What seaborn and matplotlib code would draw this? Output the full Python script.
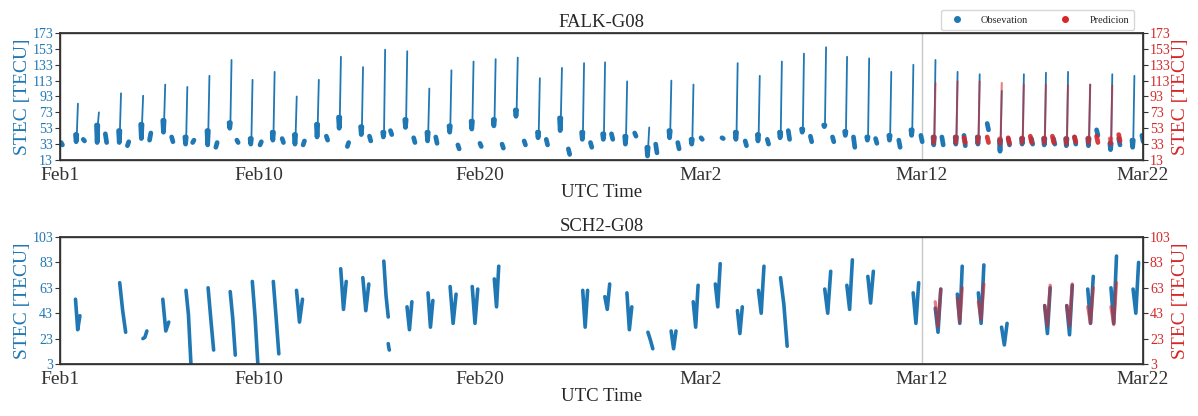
import numpy as np
import pandas as pd
import matplotlib
matplotlib.use("Agg")
import matplotlib.pyplot as plt
import seaborn as sns
from matplotlib.lines import Line2D

# ---------------- data (days since Feb 1) ----------------
x_tick_days = [0, 9, 19, 29, 39, 49]
x_tick_labels = ["Feb1", "Feb10", "Feb20", "Mar2", "Mar12", "Mar22"]
split_day = 39  # Mar12

# FALK-G08 long passes: start time, base high, base low, peak
falk_big_t = [0.70, 1.65, 2.65, 3.65, 4.65, 5.65, 6.65, 7.65, 8.60, 9.60, 10.60, 11.60,
              12.60, 13.60, 14.60, 15.60, 16.60, 17.60, 18.60, 19.60, 20.60, 21.60, 22.60,
              23.60, 24.55, 25.55, 26.55, 27.55, 28.55, 30.55, 31.55, 32.55, 33.55, 34.55,
              35.50, 36.50, 37.50, 38.50, 39.50, 40.50, 41.50, 42.50, 43.50, 44.50, 45.50,
              46.50, 47.50, 48.50]
falk_big_hi = [45, 57, 50, 58, 63, 42, 50, 60, 40, 48, 45, 58, 67, 55, 48, 64, 48, 56, 62,
               64, 76, 48, 66, 48, 46, 43, 29, 50, 39, 48, 45, 48, 52, 57, 49, 42, 44, 51,
               42, 42, 42, 38, 40, 40, 40, 40, 34, 38]
falk_big_lo = [36, 35, 35, 40, 48, 33, 32, 53, 33, 38, 33, 42, 53, 45, 42, 54, 37, 48, 52,
               56, 68, 41, 50, 39, 39, 33, 18, 41, 33, 39, 37, 41, 48, 55, 44, 38, 38, 44,
               32, 33, 33, 24, 33, 32, 31, 31, 26, 29]
falk_big_peak = [84, 73, 97, 94, 108, 105, 119, 139, 114, 124, 93, 114, 143, 130, 152, 150,
                 103, 126, 137, 140, 142, 116, 129, 135, 136, 112, 54, 113, 108, 135, 119,
                 137, 147, 155, 143, 141, 124, 133, 139, 124, 121, 100, 121, 123, 124, 108,
                 121, 119]

# FALK-G08 short low passes: time, first value, last value
falk_small_t = [0.05, 1.05, 2.05, 3.05, 4.05, 5.05, 6.00, 7.05, 8.00, 9.05, 10.05, 11.00,
                12.05, 13.00, 14.00, 14.95, 16.00, 17.00, 18.00, 19.00, 20.00, 21.00, 22.00,
                23.00, 24.00, 24.95, 26.00, 26.95, 27.95, 29.00, 29.95, 31.00, 32.00, 32.95,
                33.95, 34.95, 35.90, 36.90, 37.95, 38.95, 39.90, 40.90, 41.95, 42.90, 43.95,
                44.95, 45.90, 46.90, 47.90, 48.95]
falk_small_a = [35, 39, 46, 31, 38, 42, 35, 29, 38, 32, 40, 32, 43, 30, 43, 50, 41, 42, 32,
                34, 33, 37, 39, 27, 35, 46, 47, 33, 35, 41, 41, 37, 39, 50, 43, 42, 42, 40,
                38, 44, 42, 44, 59, 40, 40, 40, 42, 51, 40, 44]
falk_small_b = [32, 37, 35, 36, 47, 36, 38, 35, 35, 36, 35, 37, 38, 35, 37, 45, 35, 34, 27,
                30, 28, 32, 32, 20, 29, 39, 43, 22, 27, 39, 40, 31, 33, 39, 36, 36, 29, 34,
                29, 36, 32, 31, 51, 32, 33, 33, 33, 44, 32, 36]

# FALK-G08 prediction (from Mar12)
falk_pred_big_t = [39.50, 40.50, 41.50, 42.50, 43.50, 44.50, 45.50, 46.50, 47.50]
falk_pred_big_hi = [42, 42, 42, 40, 41, 41, 40, 41, 40]
falk_pred_big_lo = [34, 34, 34, 33, 34, 34, 33, 34, 33]
falk_pred_big_peak = [110, 112, 112, 110, 108, 108, 107, 108, 107]
falk_pred_small_t = [40.90, 41.95, 42.90, 43.90, 44.90, 45.90, 46.90, 47.90]
falk_pred_small_a = [41, 42, 41, 43, 43, 42, 43, 45]
falk_pred_small_b = [35, 35, 34, 35, 35, 36, 35, 37]

# SCH2-G08 passes: start time, duration, start value, minimum, end value
sch_t = [0.70, 2.70, 3.75, 4.65, 5.70, 6.70, 7.70, 8.70, 9.65, 10.70, 12.70, 13.70, 14.65,
         14.85, 15.70, 16.65, 17.65, 18.65, 19.65, 23.65, 24.65, 25.65, 26.60, 27.65, 28.65,
         29.65, 30.65, 31.60, 32.60, 34.60, 35.60, 36.55, 38.60, 39.60, 40.60, 41.55, 42.60,
         44.55, 45.55, 46.50, 47.55, 48.55]
sch_dur = [0.20, 0.27, 0.18, 0.27, 0.22, 0.25, 0.23, 0.25, 0.25, 0.27, 0.25, 0.27, 0.20,
           0.05, 0.22, 0.22, 0.27, 0.25, 0.20, 0.22, 0.22, 0.22, 0.22, 0.22, 0.22, 0.22,
           0.22, 0.25, 0.30, 0.27, 0.25, 0.25, 0.25, 0.25, 0.22, 0.25, 0.25, 0.25, 0.25,
           0.25, 0.25, 0.25]
sch_v0 = [54, 67, 23, 54, 61, 63, 60, 68, 68, 61, 78, 71, 84, 19, 48, 59, 64, 64, 70, 61, 56,
          59, 28, 29, 52, 66, 45, 61, 71, 62, 65, 72, 59, 47, 58, 59, 32, 49, 49, 62, 63, 62]
sch_vmid = [30, 45, 24, 29, 42, 38, 39, 40, 40, 36, 46, 45, 57, 16, 30, 32, 35, 35, 48, 32,
            46, 30, 22, 15, 32, 48, 27, 43, 50, 43, 46, 51, 35, 28, 35, 35, 18, 27, 26, 35,
            35, 43]
sch_v1 = [41, 28, 29, 36, 4, 14, 10, 3, 11, 54, 68, 66, 40, 14, 52, 53, 58, 62, 80, 61, 66,
          48, 15, 29, 65, 82, 48, 80, 17, 76, 85, 76, 67, 62, 80, 81, 35, 63, 65, 72, 88, 83]

sch_pred_t = [39.60, 40.60, 41.55, 44.55, 45.55, 46.50, 47.55]
sch_pred_dur = [0.25, 0.22, 0.25, 0.25, 0.25, 0.25, 0.25]
sch_pred_v0 = [52, 55, 52, 49, 49, 48, 48]
sch_pred_vmid = [32, 36, 38, 33, 33, 35, 34]
sch_pred_v1 = [62, 63, 66, 65, 66, 63, 67]

# ---------------- helpers ----------------
def big_frames(ts, hi, lo, peak):
    base, full = [], []
    for i, (t, h, l, p) in enumerate(zip(ts, hi, lo, peak)):
        pts = [(t, h), (t + 0.03, l), (t + 0.06, h), (t + 0.11, p)]
        for k, (x, y) in enumerate(pts):
            full.append((i, x, y))
            if k < 3:
                base.append((i, x, y))
    cols = ["unit", "day", "stec"]
    return pd.DataFrame(base, columns=cols), pd.DataFrame(full, columns=cols)


def small_frame(ts, a, b):
    rows = []
    for i, (t, va, vb) in enumerate(zip(ts, a, b)):
        rows += [(i, t, va), (i, t + 0.06, vb)]
    return pd.DataFrame(rows, columns=["unit", "day", "stec"])


def u_frame(ts, durs, v0, vm, v1):
    rows = []
    for i, (t, d, a, m, b) in enumerate(zip(ts, durs, v0, vm, v1)):
        rows += [(i, t, a), (i, t + d * 0.5, m), (i, t + d, b)]
    return pd.DataFrame(rows, columns=["unit", "day", "stec"])


def draw(ax, df, color, lw, alpha=1.0, z=2):
    sns.lineplot(data=df, x="day", y="stec", units="unit", estimator=None, sort=False,
                 color=color, linewidth=lw, alpha=alpha, ax=ax, zorder=z, legend=False)

# ---------------- style ----------------
sns.set_theme(style="white")
plt.rcParams["font.family"] = ["Liberation Serif", "DejaVu Serif"]

BLUE = "#1f77b4"
RED = "#d62728"

fig = plt.figure(figsize=(11.98, 4.16), dpi=100)
ax1 = fig.add_axes([0.0501, 0.6154, 0.904, 0.3053])
ax2 = fig.add_axes([0.0501, 0.1250, 0.904, 0.3053])

# top panel
b_df, f_df = big_frames(falk_big_t, falk_big_hi, falk_big_lo, falk_big_peak)
draw(ax1, f_df, BLUE, 1.3)
draw(ax1, b_df, BLUE, 3.4)
draw(ax1, small_frame(falk_small_t, falk_small_a, falk_small_b), BLUE, 3.4)
pb_df, pf_df = big_frames(falk_pred_big_t, falk_pred_big_hi, falk_pred_big_lo, falk_pred_big_peak)
draw(ax1, pf_df, RED, 1.5, 0.6, 3)
draw(ax1, pb_df, RED, 3.0, 0.6, 3)
draw(ax1, small_frame(falk_pred_small_t, falk_pred_small_a, falk_pred_small_b), RED, 3.4, 0.9, 3)

# bottom panel
draw(ax2, u_frame(sch_t, sch_dur, sch_v0, sch_vmid, sch_v1), BLUE, 2.6)
draw(ax2, u_frame(sch_pred_t, sch_pred_dur, sch_pred_v0, sch_pred_vmid, sch_pred_v1), RED, 2.4, 0.6, 3)

panels = [(ax1, "FALK-G08", (13, 173)), (ax2, "SCH2-G08", (3, 103))]
for ax, title, (y0, y1) in panels:
    yt = list(range(y0, y1 + 1, 20))
    ax.set_xlim(0, 49)
    ax.set_ylim(y0, y1)
    ax.axvline(split_day, color="#c8c8c8", lw=1.0, zorder=1)
    ax.set_xticks(x_tick_days)
    ax.set_xticklabels(x_tick_labels, fontsize=14)
    ax.set_yticks(yt)
    ax.set_yticklabels([str(v) for v in yt], fontsize=10, color=BLUE)
    ax.set_ylabel("STEC [TECU]", fontsize=14, color=BLUE, labelpad=1)
    ax.set_xlabel("UTC Time", fontsize=13.5, labelpad=0)
    ax.set_title(title, fontsize=13.5, pad=4)
    ax.tick_params(axis="both", direction="out", length=3.5, width=0.8, colors="#333333", pad=1.5)
    for lab in ax.get_yticklabels():
        lab.set_color(BLUE)
    for s in ax.spines.values():
        s.set_color("#333333")
        s.set_linewidth(1.0)
    axr = ax.twinx()
    axr.set_ylim(y0, y1)
    axr.set_yticks(yt)
    axr.set_yticklabels([str(v) for v in yt], fontsize=10, color=RED)
    axr.set_ylabel("STEC [TECU]", fontsize=14, color=RED, labelpad=1)
    axr.tick_params(axis="y", direction="out", length=3.5, width=0.8, colors="#333333", pad=1.5)
    for lab in axr.get_yticklabels():
        lab.set_color(RED)
    for s in axr.spines.values():
        s.set_color("#333333")

handles = [Line2D([], [], marker="o", ls="", color=BLUE, markersize=4),
           Line2D([], [], marker="o", ls="", color=RED, markersize=4)]
fig.legend(handles, ["Obsevation", "Predicion"], loc="upper right",
           bbox_to_anchor=(0.951, 0.988), ncol=2, fontsize=7.5, frameon=True,
           edgecolor="#cccccc", columnspacing=2.6, handletextpad=1.3, borderpad=0.5)

fig.savefig("out.png", dpi=100)
